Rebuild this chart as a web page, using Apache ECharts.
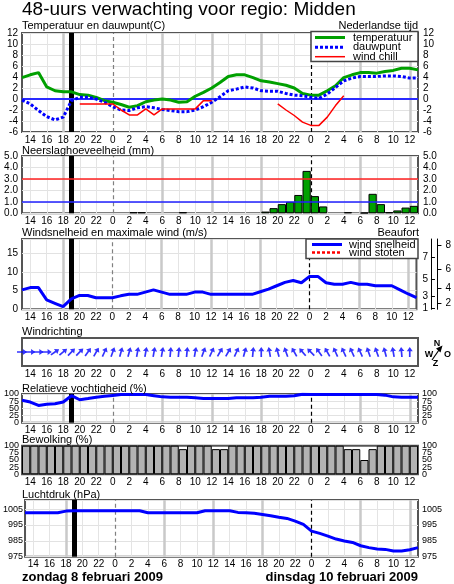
<!DOCTYPE html>
<html><head><meta charset="utf-8">
<script src="https://cdn.jsdelivr.net/npm/echarts@6/dist/echarts.min.js"></script>
<style>html,body{margin:0;padding:0;background:#fff}#c{width:454px;height:584px}</style>
</head><body><div id="c"></div>
<script>
// hours since midnight of zondag (13 = 13:00 zondag, 24 = 0:00 maandag, 48 = 0:00 dinsdag)
const hours = [13,14,15,16,17,18,19,20,21,22,23,24,25,26,27,28,29,30,31,32,33,34,35,36,37,38,39,40,41,42,43,44,45,46,47,48,49,50,51,52,53,54,55,56,57,58,59,60,61];
const temperature = [3.9,4.4,4.8,2.2,1.5,1.3,1.3,0.8,0.7,0.3,-0.3,-0.6,-1.0,-1.5,-1.2,-0.5,-0.2,0.0,-0.2,-0.6,-0.5,0.5,1.2,2.0,3.0,4.1,4.4,4.4,3.9,3.3,3.1,2.8,2.5,2.0,1.0,0.7,0.7,1.5,2.4,3.9,4.4,4.8,4.8,4.7,5.0,5.2,5.6,5.6,5.3];
const dewPoint = [-0.2,-0.9,-2.1,-3.2,-3.8,-3.3,-0.3,0.3,0.3,0.0,-0.6,-1.4,-2.0,-2.1,-1.6,-1.4,-1.6,-1.9,-2.1,-2.3,-2.3,-2.0,-1.4,-0.6,0.4,1.5,1.8,2.2,2.0,1.5,1.4,1.4,1.0,0.7,0.6,0.3,0.1,0.9,2.1,3.3,3.8,4.1,4.1,4.1,4.2,4.2,4.1,3.8,3.8];
const windChill = [null,null,null,null,null,null,null,-0.9,-0.9,-0.9,-0.9,-0.9,-2.0,-2.9,-2.9,-1.8,-2.9,-1.8,-1.8,-1.8,-1.8,-1.8,-0.3,-0.3,null,null,null,null,null,null,null,-0.9,-2.0,-3.0,-4.2,-4.8,-4.8,-3.3,-1.2,0.6,null,null,null,null,null,null,null,null,null];
// hourly amounts, bar i covers hours[i]..hours[i+1]
const precipitation = [0,0,0,0,0,0,0,0,0,0,0,0,0,0.1,0.1,0,0,0,0,0.1,0,0,0,0,0,0,0,0,0,0.15,0.45,0.8,1.0,1.6,3.7,1.5,0.6,0,0,0.1,0,0.05,1.7,0.8,0.1,0.25,0.5,0.65];
const windSpeed = [5.2,5.8,5.8,2.5,1.6,0.7,2.8,3.7,3.7,3.1,3.1,3.1,3.6,4.0,4.0,4.6,5.2,4.6,4.0,4.0,4.0,4.6,4.6,4.0,4.0,4.0,4.0,4.0,4.0,4.7,5.4,6.3,7.2,7.7,7.1,8.8,8.8,7.1,6.7,6.7,7.2,6.7,6.7,6.3,6.3,6.3,5.2,4.1,3.1];
// wind direction (degrees, where the wind comes from) for hours 13..60
const windFrom = [270,270,270,270,235,230,225,225,215,210,205,200,195,195,190,190,190,190,185,185,185,190,200,205,210,210,205,195,185,180,170,165,160,150,140,135,145,150,155,155,155,155,160,160,165,170,175,180];
const humidity = [78,72,60,64,66,72,94,80,84,89,92,95,98,98,98,98,94,90,89,89,89,87,84,84,84,84,87,87,87,89,92,92,92,94,99,98,98,98,98,98,98,98,98,98,96,90,89,89,89];
const cloudCover = [100,100,100,100,100,100,100,100,100,100,100,100,100,100,100,100,100,100,100,88,100,100,100,88,88,100,100,100,100,100,100,100,100,100,100,100,100,100,100,88,88,50,88,100,100,100,100,100];
const pressure = [1002.7,1002.7,1002.7,1002.7,1002.7,1003.7,1003.9,1003.9,1003.9,1003.9,1003.9,1003.9,1003.9,1003.9,1003.9,1002.7,1002.7,1002.7,1002.7,1002.7,1002.7,1002.7,1003.9,1003.9,1003.9,1003.9,1002.9,1002.7,1002.3,1001.6,1000.8,999.9,999.1,997.4,995.3,991.1,989.7,988.0,986.1,984.9,984.0,981.9,980.7,979.8,979.6,978.6,978.6,979.4,980.7];
const pctTicks = [0,25,50,75,100];
const bftLimits = [0.3,1.6,3.4,5.5,8.0,10.8,13.9,17.2];
const bftForce = [1,2,3,4,5,6,7,8];
const nowHour = 19;
const midnights = [24,48];

const FONT = 'Liberation Sans';
const grids = [
  {top:33, height:99},
  {top:156, height:57.3},
  {top:239, height:70.3},
  {top:338, height:28},
  {top:394, height:28.7},
  {top:445.7, height:28.6},
  {top:500, height:56.7}
];
const pctEven = pctTicks.filter((t, i) => i % 2 === 0);
const pctOdd = pctTicks.filter((t, i) => i % 2 === 1);

function xAx(gi){
  return {type:'value', gridIndex:gi, min:13, max:61, interval:1,
    axisLine:{show:false}, axisTick:{show:false}, splitLine:{show:false},
    axisLabel:{fontSize:10, color:'#000', margin:3, fontFamily:FONT, hideOverlap:false,
      formatter:v => (v % 2 === 0 ? String(v % 24) : '')}};
}
function yAx(gi, pos, min, max, interval, fmt, fs, split, margin, custom, lh){
  const lab = {fontSize:fs, color:'#000', margin:margin, fontFamily:FONT, formatter:fmt, lineHeight:lh || fs,
      showMinLabel:true, showMaxLabel:true, hideOverlap:false, interval:0};
  if (custom) lab.customValues = custom;
  return {type:'value', gridIndex:gi, position:pos, min:min, max:max, interval:interval,
    axisLine:{show:false}, axisTick:{show:false},
    splitLine:{show:split, lineStyle:{color:'#e2e2e2', width:1}},
    axisLabel:lab};
}
const fmtTemp = v => (v % 2 === 0 ? String(v) : '');
const fmtPrec = v => (Number.isInteger(v) ? v.toFixed(1) : '');
const fmtWind = v => (v % 5 === 0 && v <= 15 ? String(v) : '');
const fmtPct = v => String(v);
const fmtPres = v => ((v - 975) % 10 === 0 ? String(v) : '');
function bftFmt(v){
  let best = 0;
  bftLimits.forEach((l, i) => { if (Math.abs(l - v) < Math.abs(bftLimits[best] - v)) best = i; });
  return String(bftForce[best]);
}

function vLines(withNow){
  const d = [];
  for (let h = 14; h <= 60; h += 2){
    if (h % 24 === 0) continue;
    const major = (h % 6 === 0);
    d.push({xAxis:h, lineStyle:{color: major ? '#c9c9c9' : '#e4e4e4', width: major ? 2.5 : 1, type:'solid'}});
  }
  d.push({xAxis:midnights[0], lineStyle:{color:'#808080', width:1.2, type:[4,3]}});
  d.push({xAxis:midnights[1], lineStyle:{color:'#000', width:1.2, type:[4,3]}});
  if (withNow) d.push({xAxis:nowHour, lineStyle:{color:'#000', width:5, type:'solid'}});
  return d;
}
function guide(gi, yi, data, z){
  return {type:'line', xAxisIndex:gi, yAxisIndex:yi, data:[], silent:true,
    markLine:{silent:true, z:z, symbol:['none','none'], label:{show:false}, animation:false, data:data}};
}
const pairs = arr => hours.map((h, i) => [h, arr[i] === null ? '-' : arr[i]]);
const barPairs = arr => arr.map((v, i) => [hours[i] + 0.5, v === 0 ? '-' : v]);
const barW = 396 / (hours.length - 1);

const arrowPath = 'path://M0,0 L3.2,5 L0.9,5 L0.9,12 L-0.9,12 L-0.9,5 L-3.2,5 Z';

const option = {
  animation:false,
  textStyle:{fontFamily:FONT},
  grid: grids.map(g => ({left:22, width:396, top:g.top, height:g.height, show:true, borderColor:'#555', borderWidth:2})),
  xAxis: grids.map((g, i) => xAx(i)),
  yAxis: [
    yAx(0,'left',-6,12,2,fmtTemp,10,true,4),
    yAx(0,'right',-6,12,2,fmtTemp,10,false,5),
    yAx(1,'left',0,5,1,fmtPrec,10,true,4),
    yAx(1,'right',0,5,1,fmtPrec,10,false,5),
    yAx(2,'left',0,18.8,5,fmtWind,10,true,4),
    {type:'value', gridIndex:2, position:'right', offset:14.5, min:0, max:18.8,
      axisLine:{show:true, lineStyle:{color:'#000', width:1}}, splitLine:{show:false},
      axisTick:{show:true, length:4, customValues:[bftLimits[0],bftLimits[2],bftLimits[4],bftLimits[6]], lineStyle:{color:'#000'}},
      axisLabel:{inside:true, margin:3, fontSize:10, color:'#000', fontFamily:FONT,
        customValues:[bftLimits[0],bftLimits[2],bftLimits[4],bftLimits[6]], formatter:bftFmt}},
    {type:'value', gridIndex:2, position:'right', offset:21, min:0, max:18.8,
      axisLine:{show:true, lineStyle:{color:'#000', width:1}}, splitLine:{show:false},
      axisTick:{show:true, length:4, customValues:[bftLimits[1],bftLimits[3],bftLimits[5],bftLimits[7]], lineStyle:{color:'#000'}},
      axisLabel:{margin:8, fontSize:10, color:'#000', fontFamily:FONT,
        customValues:[bftLimits[1],bftLimits[3],bftLimits[5],bftLimits[7]], formatter:bftFmt}},
    {type:'value', gridIndex:3, min:0, max:1, axisLine:{show:false}, axisTick:{show:false}, axisLabel:{show:false}, splitLine:{show:false}},
    yAx(4,'left',0,100,25,fmtPct,9,true,3,pctEven,7),
    yAx(4,'right',0,100,25,fmtPct,9,false,4,pctEven,7),
    yAx(5,'left',0,100,25,fmtPct,9,false,3,pctEven,7),
    yAx(5,'right',0,100,25,fmtPct,9,false,4,pctEven,7),
    yAx(6,'left',975,1010.7,10,fmtPres,9,true,2),
    yAx(6,'right',975,1010.7,10,fmtPres,9,false,4),
    yAx(4,'left',0,100,25,fmtPct,9,false,3,pctOdd,7),
    yAx(4,'right',0,100,25,fmtPct,9,false,4,pctOdd,7),
    yAx(5,'left',0,100,25,fmtPct,9,false,3,pctOdd,7),
    yAx(5,'right',0,100,25,fmtPct,9,false,4,pctOdd,7)
  ],
  series: [
    guide(0,0,vLines(true).concat([{yAxis:0, lineStyle:{color:'#2a2aff', width:2, type:'solid'}}]),1),
    {type:'line', name:'temperatuur', xAxisIndex:0, yAxisIndex:0, data:pairs(temperature), showSymbol:false, symbol:'none',
      lineStyle:{color:'#00a000', width:3}, z:3},
    {type:'line', name:'dauwpunt', xAxisIndex:0, yAxisIndex:0, data:pairs(dewPoint), showSymbol:false, symbol:'none',
      lineStyle:{color:'#0000ff', width:3, type:[3,2]}, z:3},
    {type:'line', name:'wind chill', xAxisIndex:0, yAxisIndex:0, data:pairs(windChill), showSymbol:false, symbol:'none', connectNulls:false,
      lineStyle:{color:'#ff0000', width:1.5}, z:3},

    guide(1,2,vLines(true),1),
    guide(1,2,[{yAxis:3, lineStyle:{color:'#ff2020', width:1.5, type:'solid'}},{yAxis:1, lineStyle:{color:'#2020ff', width:1.5, type:'solid'}}],6),
    {type:'bar', xAxisIndex:1, yAxisIndex:2, data:barPairs(precipitation), barWidth:barW,
      itemStyle:{color:'#00a000', borderColor:'#000', borderWidth:1}, z:3},

    guide(2,4,vLines(true),1),
    {type:'line', name:'wind snelheid', xAxisIndex:2, yAxisIndex:4, data:pairs(windSpeed), showSymbol:false, symbol:'none',
      lineStyle:{color:'#0000ff', width:3}, z:3},

    {type:'scatter', xAxisIndex:3, yAxisIndex:7, data:windFrom.map((d, i) => [hours[i], 0.5, d]),
      symbol:arrowPath, symbolSize:[6,10], symbolRotate:(val) => -((val[2] + 180) % 360),
      itemStyle:{color:'#0000ff'}, z:3},

    guide(4,8,vLines(true),1),
    {type:'line', xAxisIndex:4, yAxisIndex:8, data:pairs(humidity), showSymbol:false, symbol:'none',
      lineStyle:{color:'#0000ff', width:3}, z:3},

    {type:'bar', xAxisIndex:5, yAxisIndex:10, data:barPairs(cloudCover), barWidth:barW,
      itemStyle:{color:'#b3b3b3', borderColor:'#000', borderWidth:1}, z:3},

    guide(6,12,vLines(true),1),
    {type:'line', xAxisIndex:6, yAxisIndex:12, data:pairs(pressure), showSymbol:false, symbol:'none',
      lineStyle:{color:'#0000ff', width:3}, z:3}
  ],
  graphic: [
    {type:'text', x:22, y:10, z:50, style:{text:'48-uurs verwachting voor regio: Midden', font:'19px "Liberation Sans"', fill:'#000', verticalAlign:'middle'}},
    {type:'text', x:22, y:26, z:50, style:{text:'Temperatuur en dauwpunt(C)', font:'11px "Liberation Sans"', fill:'#000', verticalAlign:'middle'}},
    {type:'text', x:418, y:26, z:50, style:{text:'Nederlandse tijd', font:'11px "Liberation Sans"', fill:'#000', align:'right', verticalAlign:'middle'}},
    {type:'text', x:22, y:151, z:50, style:{text:'Neerslaghoeveelheid (mm)', font:'11px "Liberation Sans"', fill:'#000', verticalAlign:'middle'}},
    {type:'text', x:22, y:232.5, z:50, style:{text:'Windsnelheid en maximale wind (m/s)', font:'11px "Liberation Sans"', fill:'#000', verticalAlign:'middle'}},
    {type:'text', x:419, y:232.5, z:50, style:{text:'Beaufort', font:'11px "Liberation Sans"', fill:'#000', align:'right', verticalAlign:'middle'}},
    {type:'text', x:22, y:332, z:50, style:{text:'Windrichting', font:'11px "Liberation Sans"', fill:'#000', verticalAlign:'middle'}},
    {type:'text', x:22, y:389, z:50, style:{text:'Relatieve vochtigheid (%)', font:'11px "Liberation Sans"', fill:'#000', verticalAlign:'middle'}},
    {type:'text', x:22, y:440, z:50, style:{text:'Bewolking (%)', font:'11px "Liberation Sans"', fill:'#000', verticalAlign:'middle'}},
    {type:'text', x:22, y:494.5, z:50, style:{text:'Luchtdruk (hPa)', font:'11px "Liberation Sans"', fill:'#000', verticalAlign:'middle'}},
    {type:'text', x:22, y:577, z:50, style:{text:'zondag 8 februari 2009', font:'bold 13px "Liberation Sans"', fill:'#000', verticalAlign:'middle'}},
    {type:'text', x:418, y:577, z:50, style:{text:'dinsdag 10 februari 2009', font:'bold 13px "Liberation Sans"', fill:'#000', align:'right', verticalAlign:'middle'}},

    // temperature legend
    {type:'rect', z:40, shape:{x:311, y:31.5, width:107, height:30}, style:{fill:'#fff', stroke:'#444', lineWidth:1.5}},
    {type:'line', z:41, shape:{x1:315, y1:37.5, x2:345, y2:37.5}, style:{stroke:'#00a000', lineWidth:3}},
    {type:'line', z:41, shape:{x1:315, y1:47.3, x2:345, y2:47.3}, style:{stroke:'#0000ff', lineWidth:3, lineDash:[3,2]}},
    {type:'line', z:41, shape:{x1:315, y1:56.7, x2:345, y2:56.7}, style:{stroke:'#ff0000', lineWidth:1.5}},
    {type:'text', x:353, y:37.5, z:41, style:{text:'temperatuur', font:'11px "Liberation Sans"', fill:'#000', verticalAlign:'middle'}},
    {type:'text', x:353, y:47.3, z:41, style:{text:'dauwpunt', font:'11px "Liberation Sans"', fill:'#000', verticalAlign:'middle'}},
    {type:'text', x:353, y:56.7, z:41, style:{text:'wind chill', font:'11px "Liberation Sans"', fill:'#000', verticalAlign:'middle'}},

    // wind legend
    {type:'rect', z:40, shape:{x:306, y:239, width:112, height:19.5}, style:{fill:'#fff', stroke:'#444', lineWidth:1.5}},
    {type:'line', z:41, shape:{x1:312, y1:244.5, x2:342, y2:244.5}, style:{stroke:'#0000ff', lineWidth:3}},
    {type:'line', z:41, shape:{x1:312, y1:252.5, x2:342, y2:252.5}, style:{stroke:'#ff0000', lineWidth:2.5, lineDash:[3,2]}},
    {type:'text', x:349, y:244.5, z:41, style:{text:'wind snelheid', font:'11px "Liberation Sans"', fill:'#000', verticalAlign:'middle'}},
    {type:'text', x:349, y:252.5, z:41, style:{text:'wind stoten', font:'11px "Liberation Sans"', fill:'#000', verticalAlign:'middle'}},

    // compass
    {type:'text', x:437, y:344, z:41, style:{text:'N', font:'bold 9px "Liberation Sans"', fill:'#000', align:'center', verticalAlign:'middle'}},
    {type:'text', x:429, y:354.5, z:41, style:{text:'W', font:'bold 9px "Liberation Sans"', fill:'#000', align:'center', verticalAlign:'middle'}},
    {type:'text', x:447.5, y:354.5, z:41, style:{text:'O', font:'bold 9px "Liberation Sans"', fill:'#000', align:'center', verticalAlign:'middle'}},
    {type:'text', x:435.5, y:363.5, z:41, style:{text:'Z', font:'bold 9px "Liberation Sans"', fill:'#000', align:'center', verticalAlign:'middle'}},
    {type:'line', z:41, shape:{x1:432, y1:360, x2:439, y2:350}, style:{stroke:'#000', lineWidth:1.2}},
    {type:'polygon', z:41, shape:{points:[[442.5,345.5],[436,348.5],[440.5,352.5]]}, style:{fill:'#000'}}
  ]
};
const chart = echarts.init(document.getElementById('c'), null, {renderer:'canvas'});
chart.setOption(option);
</script>
</body></html>
